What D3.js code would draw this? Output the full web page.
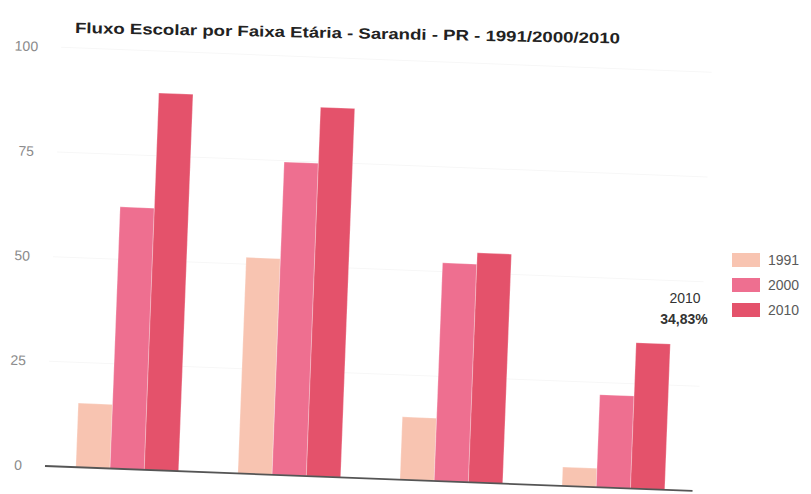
<!DOCTYPE html>
<html>
<head>
<meta charset="utf-8">
<script src="https://cdn.jsdelivr.net/npm/d3@7"></script>
<style>
  html, body { margin: 0; padding: 0; background: #fff; }
  svg { display: block; font-family: "Liberation Sans", Arial, sans-serif; }
</style>
</head>
<body>
<svg id="chart" width="811" height="494"></svg>
<script>
const title = "Fluxo Escolar por Faixa Etária - Sarandi - PR - 1991/2000/2010";
const categories = ["5 a 6 anos na escola", "11 a 13 anos nos anos finais", "15 a 17 anos com fundamental completo", "18 a 20 anos com médio completo"];
const years = ["1991", "2000", "2010"];
const values1991 = [15.3, 51.6, 15.0, 4.5];
const values2000 = [62.5, 74.7, 52.1, 22.1];
const values2010 = [90.0, 88.1, 54.8, 34.83];
const yTicks = [0, 25, 50, 75, 100];
const colors = ["#f8c4b1", "#ee6f90", "#e4526b"];
const highlightYear = "2010";
const highlightText = "34,83%";

const series = [values1991, values2000, values2010];
const svg = d3.select("#chart");

// Title (slightly tilted like the scanned page)
svg.append("text")
  .attr("x", 75).attr("y", 33)
  .attr("transform", "rotate(1.1, 75, 33)")
  .attr("font-size", 15).attr("font-weight", "bold").attr("fill", "#222")
  .attr("textLength", 545).attr("lengthAdjust", "spacingAndGlyphs")
  .text(title);

// Plot group, rotated to follow the scanned page
const g = svg.append("g").attr("transform", "translate(45,466) rotate(2.2)");

const x0 = d3.scaleBand().domain(categories).range([0, 651]).paddingInner(0.366).paddingOuter(0.19);
const x1 = d3.scaleBand().domain(years).range([0, x0.bandwidth()]).padding(0);
const y = d3.scaleLinear().domain([0, 100]).range([0, -419]);

// faint gridlines
g.selectAll("line.grid").data(yTicks.slice(1)).join("line")
  .attr("class", "grid")
  .attr("x1", 0).attr("x2", 651)
  .attr("y1", d => y(d)).attr("y2", d => y(d))
  .attr("stroke", "#f7f7f7").attr("stroke-width", 1);

// y tick labels
g.selectAll("text.ytick").data(yTicks).join("text")
  .attr("class", "ytick")
  .attr("x", -23).attr("y", d => y(d))
  .attr("dy", "0.35em")
  .attr("text-anchor", "end")
  .attr("font-size", 14).attr("fill", "#8a8a8a")
  .text(d => d);

// bars
const groups = g.selectAll("g.cat").data(categories).join("g")
  .attr("class", "cat")
  .attr("transform", d => `translate(${x0(d)},0)`);

groups.selectAll("rect").data((c, i) => years.map((yr, j) => ({ yr, v: series[j][i], j }))).join("rect")
  .attr("x", d => x1(d.yr))
  .attr("width", x1.bandwidth())
  .attr("y", d => y(d.v))
  .attr("height", d => -y(d.v))
  .attr("fill", d => colors[d.j])
  .attr("stroke", "rgba(255,255,255,0.35)").attr("stroke-width", 0.8);

// baseline
g.append("line")
  .attr("x1", 0).attr("x2", 648)
  .attr("y1", 0).attr("y2", 0)
  .attr("stroke", "#555").attr("stroke-width", 1.8);

// legend
const legend = svg.append("g").attr("transform", "translate(732,253)");
years.forEach((yr, i) => {
  legend.append("rect").attr("x", 0).attr("y", i * 25).attr("width", 28).attr("height", 14).attr("fill", colors[i]);
  legend.append("text").attr("x", 36).attr("y", i * 25 + 7).attr("dy", "0.35em")
    .attr("font-size", 14).attr("fill", "#5a5a5a").text(yr);
});

// tooltip-like annotation
svg.append("text").attr("x", 685).attr("y", 303).attr("text-anchor", "middle")
  .attr("font-size", 14).attr("fill", "#333").text(highlightYear);
svg.append("text").attr("x", 684).attr("y", 324).attr("text-anchor", "middle")
  .attr("font-size", 14).attr("font-weight", "bold").attr("fill", "#333").text(highlightText);
</script>
</body>
</html>
